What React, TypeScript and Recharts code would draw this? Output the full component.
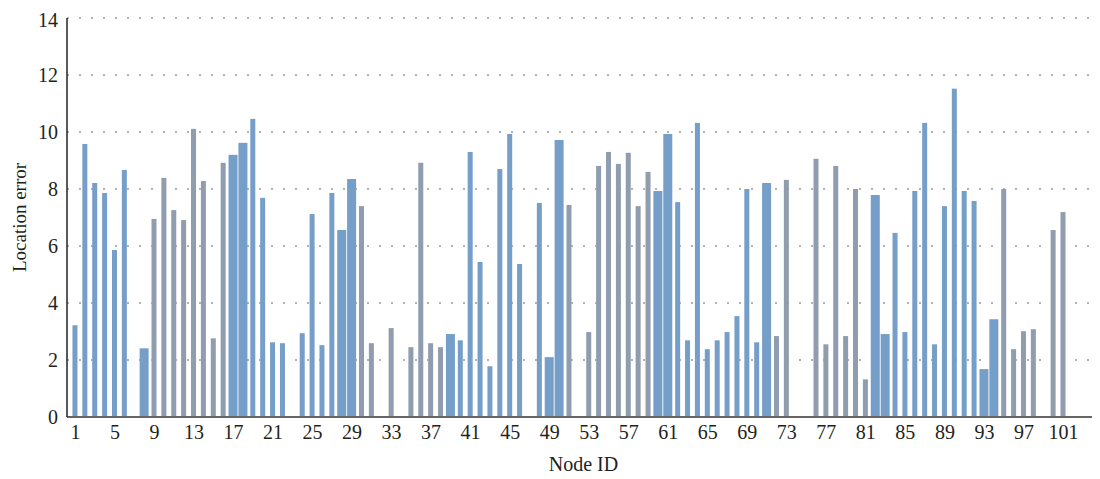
import { BarChart, Bar, CartesianGrid, XAxis, YAxis } from "recharts"

// location error per node (node 1..101)
const locationError = [
  3.22, 9.58, 8.21, 7.86, 5.86, 8.67, 0, 2.41, 6.95, 8.39,
  7.26, 6.91, 10.11, 8.28, 2.76, 8.92, 9.2, 9.62, 10.46, 7.69,
  2.62, 2.59, 0, 2.94, 7.12, 2.52, 7.86, 6.56, 8.35, 7.4,
  2.59, 0, 3.12, 0, 2.45, 8.92, 2.59, 2.45, 2.91, 2.69,
  9.3, 5.44, 1.78, 8.7, 9.93, 5.37, 0, 7.51, 2.1, 9.72,
  7.44, 0, 2.98, 8.81, 9.3, 8.88, 9.27, 7.4, 8.6, 7.93,
  9.93, 7.54, 2.69, 10.32, 2.38, 2.69, 2.98, 3.54, 8.0, 2.62,
  8.21, 2.84, 8.32, 0, 0, 9.06, 2.55, 8.81, 2.84, 8.0,
  1.32, 7.79, 2.91, 6.46, 2.98, 7.93, 10.32, 2.55, 7.4, 11.52,
  7.93, 7.58, 1.68, 3.43, 8.0, 2.38, 3.01, 3.08, 0, 6.56,
  7.19,
]

// A = blue group, B = grey group
const nodeGroup = (
  "AAAAAAAA" + "BBBBBBBB" + "AAAAAAAAAAAAA" + "BBBBBBBBB" + "AAAAAAAAAAAA" +
  "BBBBBBBBB" + "AAAAAAAAAAAA" + "BBBBBBBBBB" + "AAAAAAAAAAAAA" + "BBBBBBB"
).split("")

// nodes drawn with a full-width bar
const wideNodes = [8, 17, 18, 28, 29, 39, 49, 50, 60, 61, 71, 82, 83, 93, 94]

const xTicks = [1, 5, 9, 13, 17, 21, 25, 29, 33, 37, 41, 45, 49, 53, 57, 61, 65, 69, 73, 77, 81, 85, 89, 93, 97, 101]
const yTicks = [0, 2, 4, 6, 8, 10, 12, 14]

const data = locationError.map((v, i) => ({ node: i + 1, error: v, group: nodeGroup[i] }))

const font = "'Liberation Serif', 'DejaVu Serif', serif"
const textColor = "#231f20"
const colors: Record<string, string> = { A: "#759ec8", B: "#8f9dae" }

const NodeBar = (props: any) => {
  const { x, y, width, height, payload } = props
  if (!height || height <= 0) return null
  const w = wideNodes.includes(payload.node) ? 9 : width
  return <rect x={x + width / 2 - w / 2} y={y} width={w} height={height} fill={colors[payload.group]} />
}

export default function App() {
  return (
    <div>
      <BarChart width={1092} height={471} data={data}
        margin={{ top: 10, right: 0, left: 9, bottom: 0 }}>
        <CartesianGrid vertical={false} stroke="#9a9a9a" strokeDasharray="2 10" strokeWidth={1.5} />
        <XAxis type="number" dataKey="node" domain={[0.15, 104.7]} ticks={xTicks} interval={0}
          height={62} tickLine={false} axisLine={{ stroke: "#666", strokeWidth: 2 }}
          tick={{ fontSize: 20, fontFamily: font, fill: textColor }}
          label={{ value: "Node ID", position: "insideBottom", offset: 8, style: { fontSize: 20, fontFamily: font, fill: textColor } }} />
        <YAxis domain={[0, 14]} ticks={yTicks} width={50} tickLine={false} tickMargin={3}
          axisLine={{ stroke: "#222", strokeWidth: 1.5 }}
          tick={{ fontSize: 20, fontFamily: font, fill: textColor }}
          label={{ value: "Location error", angle: -90, position: "insideLeft", offset: 2, style: { textAnchor: "middle", fontSize: 19, fontFamily: font, fill: textColor } }} />
        <Bar dataKey="error" barSize={5} shape={NodeBar} isAnimationActive={false} />
      </BarChart>
    </div>
  )
}
